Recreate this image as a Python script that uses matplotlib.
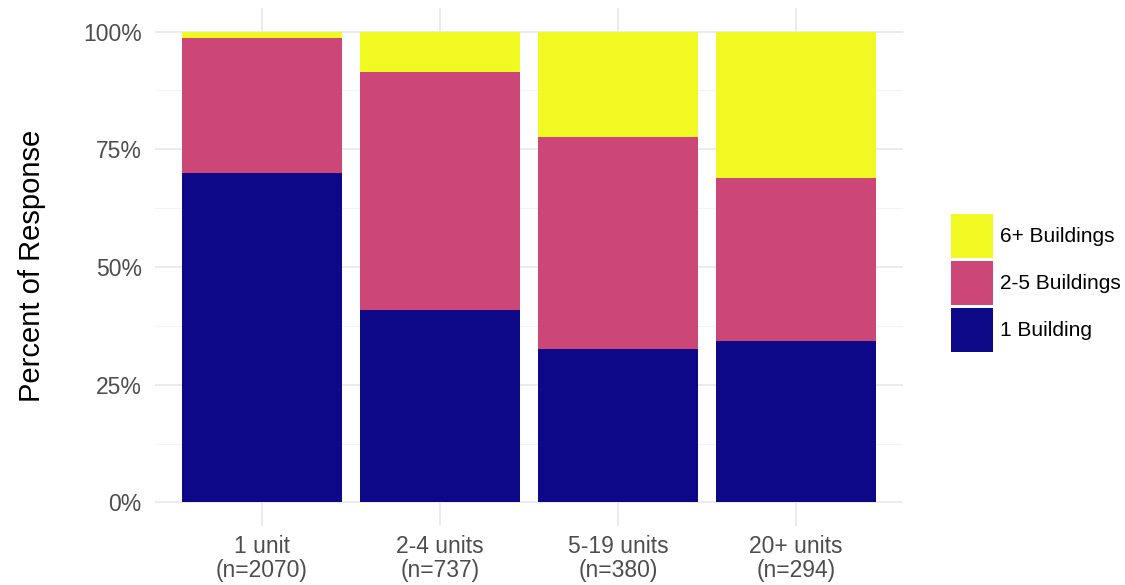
import matplotlib
matplotlib.use("Agg")
import matplotlib.pyplot as plt
import numpy as np
from matplotlib.patches import Patch

plt.rcParams['font.family'] = ['Liberation Sans', 'DejaVu Sans']

# data (percent of response)
categories = ['1 unit\n(n=2070)', '2-4 units\n(n=737)', '5-19 units\n(n=380)', '20+ units\n(n=294)']
one_building = [70.0, 40.8, 32.5, 34.2]
two_five_buildings = [28.7, 50.7, 45.2, 34.8]
six_plus_buildings = [1.3, 8.5, 22.3, 31.0]

colors = {'1 Building': '#0D0887', '2-5 Buildings': '#CC4778', '6+ Buildings': '#F0F921'}

fig = plt.figure(figsize=(11.25, 5.85), dpi=100)
ax = fig.add_axes([155 / 1125, 1 - 526 / 585, (903 - 155) / 1125, (526 - 8) / 585])

x = np.arange(1, len(categories) + 1)
w = 0.9
b1 = np.array(one_building)
b2 = np.array(two_five_buildings)
b3 = np.array(six_plus_buildings)
ax.bar(x, b1, width=w, color=colors['1 Building'], zorder=2)
ax.bar(x, b2, width=w, bottom=b1, color=colors['2-5 Buildings'], zorder=2)
ax.bar(x, b3, width=w, bottom=b1 + b2, color=colors['6+ Buildings'], zorder=2)

ax.set_xlim(0.4, 4.6)
ax.set_ylim(-5, 105)
ax.set_xticks(x)
ax.set_xticklabels(categories, fontsize=16.5, color='#4D4D4D', linespacing=1.05)
ax.set_yticks([0, 25, 50, 75, 100])
ax.set_yticklabels(['0%', '25%', '50%', '75%', '100%'], fontsize=16.5, color='#4D4D4D')
ax.set_yticks([12.5, 37.5, 62.5, 87.5], minor=True)
ax.tick_params(axis='y', length=0, pad=9.5)
ax.tick_params(axis='x', length=0, pad=6.5)
ax.tick_params(which='minor', length=0)
ax.grid(True, which='major', color='#EBEBEB', linewidth=1.4, zorder=0)
ax.grid(True, which='minor', axis='y', color='#F3F3F3', linewidth=0.8, zorder=0)
for s in ax.spines.values():
    s.set_visible(False)

ax.set_ylabel('Percent of Response', fontsize=21)
ax.yaxis.set_label_coords(-0.146, (503 - 266) / 471 * 100 / 110 + 5 / 110)

handles = [Patch(facecolor=colors[k], edgecolor='none') for k in ['6+ Buildings', '2-5 Buildings', '1 Building']]
fig.legend(handles, ['6+ Buildings', '2-5 Buildings', '1 Building'],
           loc='center left', bbox_to_anchor=(951 / 1125, 1 - 283 / 585),
           frameon=False, fontsize=15, handlelength=2.0, handleheight=2.87,
           handletextpad=0.34, labelspacing=0.14, borderpad=0, borderaxespad=0)

fig.savefig('out.png', dpi=100)
